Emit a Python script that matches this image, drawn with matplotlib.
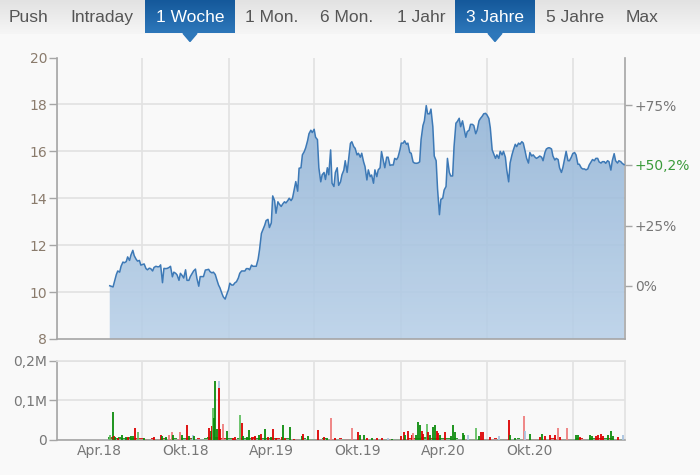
import numpy as np
import pandas as pd
import matplotlib
matplotlib.use('Agg')
import matplotlib.pyplot as plt
import matplotlib.dates as mdates
from matplotlib.patches import Polygon
from matplotlib.colors import LinearSegmentedColormap
from matplotlib.ticker import FuncFormatter

# --- Data: closes twice a week (Mon, Thu) ---
price_start = '2018-04-23'
prices = [
    10.27, 10.25, 10.22, 10.45, 10.75, 10.90, 10.85, 11.10, 11.28, 11.25,
    11.30, 11.50, 11.35, 11.58, 11.78, 11.55, 11.40, 11.32, 11.35, 11.15,
    11.18, 11.20, 11.00, 10.95, 11.02, 11.00, 10.90, 11.05, 11.10, 11.08,
    11.08, 11.16, 10.40, 11.01, 11.00, 11.01, 11.05, 11.10, 10.65, 10.85,
    10.80, 10.73, 10.50, 10.80, 10.70, 10.60, 10.95, 10.50, 10.50, 10.66,
    10.80, 10.90, 10.98, 10.59, 10.25, 10.66, 10.66, 10.66, 10.94, 10.95,
    10.97, 10.87, 10.82, 10.85, 10.75, 10.55, 10.30, 10.18, 9.95, 9.80,
    9.70, 9.88, 10.10, 10.38, 10.30, 10.30, 10.40, 10.44, 10.60, 10.80,
    10.90, 10.90, 10.90, 11.00, 11.00, 10.95, 11.15, 11.10, 11.10, 11.10,
    11.40, 11.80, 12.50, 12.65, 12.85, 13.05, 13.10, 12.75, 12.95, 14.10,
    13.90, 13.36, 13.85, 13.75, 13.65, 13.75, 13.85, 13.80, 13.90, 14.00,
    13.90, 14.00, 14.40, 14.71, 14.30, 15.28, 15.30, 15.85, 15.99, 16.15,
    16.45, 16.75, 16.90, 16.80, 16.94, 16.60, 16.50, 15.30, 14.70, 15.00,
    15.10, 14.80, 15.30, 15.00, 16.06, 14.64, 14.50, 15.10, 15.30, 14.55,
    14.70, 15.00, 15.20, 15.60, 15.10, 15.63, 16.34, 16.41, 16.20, 16.13,
    15.85, 15.92, 15.75, 15.92, 15.55, 15.35, 14.78, 15.21, 14.92, 14.99,
    14.64, 15.21, 14.92, 15.21, 15.30, 15.99, 15.60, 15.30, 15.75, 15.75,
    15.40, 15.42, 15.42, 15.70, 15.65, 15.75, 16.05, 16.35, 16.35, 16.45,
    16.30, 16.35, 15.95, 15.92, 15.55, 15.50, 15.49, 15.50, 15.55, 16.50,
    17.10, 17.30, 17.95, 17.60, 17.60, 17.80, 17.05, 15.80, 15.60, 14.40,
    13.30, 13.95, 14.00, 14.35, 14.50, 15.70, 15.10, 14.95, 14.95, 16.20,
    17.20, 17.27, 17.41, 17.05, 17.30, 17.00, 16.60, 16.84, 16.90, 17.15,
    17.15, 17.10, 16.75, 16.90, 17.30, 17.40, 17.50, 17.60, 17.62, 17.55,
    17.40, 17.00, 16.06, 15.90, 15.70, 15.85, 15.70, 16.00, 15.85, 16.00,
    15.75, 15.20, 14.70, 15.50, 15.85, 16.06, 16.30, 16.20, 16.35, 16.30,
    16.41, 16.35, 16.00, 15.71, 15.50, 15.95, 15.80, 15.85, 15.75, 15.70,
    15.75, 15.80, 15.75, 15.60, 15.95, 16.10, 16.15, 16.15, 16.10, 15.80,
    15.63, 15.70, 15.65, 15.30, 15.10, 15.30, 15.70, 16.00, 15.60, 15.60,
    15.75, 15.90, 15.95, 15.85, 15.45, 15.45, 15.30, 15.25, 15.25, 15.21,
    15.25, 15.42, 15.55, 15.65, 15.60, 15.70, 15.70, 15.55, 15.50, 15.56,
    15.56, 15.49, 15.60, 15.56, 15.20, 15.60, 15.90, 15.60, 15.50, 15.60,
    15.56, 15.49, 15.43,
]

# typical weekly volume level (thousand shares)
week_vol = [
    8, 6, 5, 6, 5, 4, 6, 5, 5, 4, 4, 3, 3, 4, 3, 3, 4, 4, 3, 4, 4, 3, 4, 5, 4,
    4, 3, 4, 3, 4, 6, 8, 7, 6, 5, 4, 4,
    4, 3, 5, 4, 4, 4, 5, 6, 5, 5, 4, 4, 5, 5, 4, 3, 3, 4, 3, 3, 3, 3, 4, 3, 3,
    3, 3, 3, 4, 3, 3, 3, 3, 4, 3, 3, 3, 3, 3, 2, 2, 2, 2, 2, 2, 2, 2, 3, 2, 2, 2, 2,
    3, 3, 4, 5, 5, 5, 6, 6, 5, 5, 4, 4, 5, 4, 4, 3, 4, 3, 3, 3, 3, 3, 3, 3, 3,
    3, 3, 3, 4, 3, 3, 3, 3, 3, 3, 4, 3, 3, 3, 3, 3, 3, 3, 3, 3, 4, 4, 3, 3, 3, 3, 3,
    3, 4, 4, 3, 3, 4, 4, 4, 4, 4, 4, 4, 3, 3, 3, 3,
]

# single days with notable volume (thousand shares)
spike_dates = [
    '2018-04-24', '2018-04-30', '2018-05-02', '2018-05-04', '2018-05-11', '2018-05-18',
    '2018-05-28', '2018-05-31', '2018-06-08', '2018-06-12', '2018-06-15', '2018-06-22',
    '2018-07-04', '2018-07-27', '2018-08-10', '2018-08-13', '2018-08-20', '2018-08-27',
    '2018-09-03', '2018-09-05', '2018-09-19', '2018-09-24', '2018-10-04', '2018-10-08',
    '2018-10-16', '2018-10-18', '2018-11-20', '2018-11-23', '2018-11-26', '2018-11-28',
    '2018-11-30', '2018-12-03', '2018-12-06', '2018-12-10', '2018-12-12', '2018-12-14',
    '2018-12-19', '2018-12-28',
    '2019-01-10', '2019-01-14', '2019-01-25', '2019-01-28', '2019-01-31', '2019-02-08',
    '2019-02-13', '2019-02-18', '2019-02-26', '2019-03-06', '2019-03-11', '2019-03-19',
    '2019-03-26', '2019-04-01', '2019-04-05', '2019-04-12', '2019-04-23', '2019-04-26',
    '2019-05-01', '2019-05-10', '2019-05-20', '2019-06-05', '2019-06-07', '2019-06-17',
    '2019-07-10', '2019-07-22', '2019-07-29', '2019-08-05', '2019-08-15', '2019-09-19',
    '2019-10-03', '2019-10-07', '2019-10-14', '2019-10-22', '2019-11-01', '2019-11-12',
    '2019-11-22', '2019-12-05', '2019-12-13',
    '2020-01-02', '2020-01-07', '2020-01-10', '2020-01-17', '2020-01-24', '2020-01-27',
    '2020-02-03', '2020-02-07', '2020-02-11', '2020-02-14', '2020-02-17', '2020-02-26',
    '2020-02-28', '2020-03-02', '2020-03-09', '2020-03-13', '2020-03-17', '2020-03-20',
    '2020-03-24', '2020-04-03', '2020-04-17', '2020-04-21', '2020-04-24', '2020-05-12',
    '2020-05-15', '2020-05-22', '2020-06-08', '2020-06-16', '2020-06-19', '2020-06-23',
    '2020-07-08', '2020-07-27', '2020-08-17', '2020-08-20', '2020-08-31', '2020-09-18',
    '2020-09-21', '2020-10-01', '2020-10-22', '2020-10-26', '2020-11-02', '2020-11-13',
    '2020-11-24', '2020-11-30', '2020-12-04', '2020-12-18',
    '2021-01-08', '2021-01-11', '2021-01-15', '2021-02-05', '2021-02-10', '2021-02-19',
    '2021-02-23', '2021-03-02', '2021-03-05', '2021-03-16', '2021-03-22', '2021-03-26',
    '2021-04-07', '2021-04-16',
]
spike_vol = [
    13, 70, 9, 8, 5, 11, 8, 7, 9, 9, 30, 19,
    5, 7, 13, 9, 7, 11, 19, 11, 19, 11, 38, 9,
    13, 9, 30, 21, 34, 79, 55, 148, 26, 148, 131, 26,
    40, 21,
    5, 7, 63, 42, 10, 8, 24, 8, 10, 13, 15, 26,
    7, 7, 26, 5, 7, 38, 5, 32, 3, 9, 15, 9,
    24, 7, 5, 56, 5, 30, 19, 13, 11, 5, 4, 4,
    4, 5, 3,
    9, 19, 13, 21, 11, 17, 13, 46, 38, 21, 15, 40,
    19, 13, 32, 38, 21, 17, 13, 19, 9, 38, 19, 17,
    11, 13, 30, 9, 19, 19, 7, 9, 49, 13, 4, 60,
    21, 15, 7, 15, 9, 11, 13, 30, 7, 30,
    13, 11, 7, 13, 9, 9, 13, 15, 9, 11, 21, 9,
    7, 11,
]
spike_col = [
    'lg', 'g', 'r', 'g', 'r', 'g', 'g', 'r', 'g', 'g', 'r', 'lg',
    'g', 'r', 'r', 'g', 'g', 'lr', 'lr', 'g', 'lr', 'g', 'r', 'g',
    'b', 'g', 'r', 'g', 'r', 'lg', 'g', 'g', 'g', 'b', 'r', 'r',
    'lr', 'g',
    'r', 'r', 'lg', 'r', 'g', 'g', 'g', 'r', 'r', 'g', 'r', 'g',
    'r', 'g', 'r', 'r', 'r', 'g', 'r', 'g', 'r', 'g', 'r', 'g',
    'r', 'r', 'g', 'lr', 'r', 'lr', 'r', 'g', 'g', 'r', 'g', 'r',
    'r', 'b', 'g',
    'r', 'r', 'g', 'r', 'r', 'lr', 'g', 'g', 'g', 'r', 'r', 'lg',
    'r', 'g', 'g', 'g', 'r', 'r', 'g', 'r', 'g', 'g', 'g', 'g',
    'g', 'b', 'lg', 'g', 'r', 'r', 'r', 'b', 'r', 'g', 'g', 'lr',
    'b', 'g', 'r', 'g', 'r', 'r', 'r', 'lr', 'r', 'lr',
    'g', 'g', 'r', 'g', 'g', 'r', 'r', 'r', 'r', 'g', 'g', 'g',
    'r', 'b',
]

tabs = ['Push', 'Intraday', '1 Woche', '1 Mon.', '6 Mon.', '1 Jahr', '3 Jahre', '5 Jahre', 'Max']
active_tabs = ['1 Woche', '3 Jahre']
price_ticks = [8, 10, 12, 14, 16, 18, 20]
pct_ticks = [0, 25, 75]
vol_ticks = [0, 100000, 200000]
vol_tick_labels = ['0', '0,1M', '0,2M']
x_label_dates = ['2018-04-01', '2018-10-01', '2019-04-01', '2019-10-01', '2020-04-01', '2020-10-01']
x_labels = ['Apr.18', 'Okt.18', 'Apr.19', 'Okt.19', 'Apr.20', 'Okt.20']
x_range = ('2018-01-01', '2021-04-21')

# --- Colors ---
BG = '#f9f9f9'
LINE = '#3d79b6'
GRID = '#e2e2e2'
AXIS = '#a6a6a6'
TXT = '#777777'
PRICE_TXT = '#8a7b6c'
VOL_COLORS = {'g': '#0c8c0c', 'lg': '#63c063', 'r': '#dd0000',
              'lr': '#ef7d7d', 'b': '#a9c3e0'}

mondays = pd.date_range(price_start, periods=(len(prices) + 1) // 2, freq='W-MON')
thursdays = mondays[:-1] + pd.Timedelta(days=3)
dates = mondays.append(thursdays).sort_values()
prices = np.array(prices)
weekly_close = prices[::2]
week_vol = np.array(week_vol) * 1000
spike_d = pd.to_datetime(spike_dates)
spike_v = np.array(spike_vol) * 1000
xmin, xmax = pd.to_datetime(x_range[0]), pd.to_datetime(x_range[1])

fig = plt.figure(figsize=(7, 4.75), dpi=100, facecolor=BG)
W, H = 700, 475

# --- Tab bar ---
ax_tab = fig.add_axes([0, 1 - 34 / H, 1, 34 / H])
ax_tab.imshow(np.linspace(0, 1, 50).reshape(-1, 1),
              cmap=LinearSegmentedColormap.from_list('bar', ['#e2e2e2', '#f6f6f6']),
              extent=[0, W, 34, 0], aspect='auto', zorder=0)
ax_tab.axis('off')
tab_x = [29, 102, 190, 272, 347, 421, 495, 575, 642]
tab_box = {'1 Woche': (145, 235), '3 Jahre': (455, 535)}
active_cmap = LinearSegmentedColormap.from_list('act', ['#14589a', '#2d77ba'])
for name, cx in zip(tabs, tab_x):
    if name in active_tabs:
        x0, x1 = tab_box[name]
        ax_tab.imshow(np.linspace(0, 1, 50).reshape(-1, 1), cmap=active_cmap,
                      extent=[x0, x1, 33.3, 0], aspect='auto', zorder=1)
        mid = (x0 + x1) / 2
        ax_tab.add_patch(Polygon([[mid - 7, 33.3], [mid + 7, 33.3], [mid, 41.5]], closed=True,
                                 color='#2d77ba', clip_on=False, zorder=2))
        col = 'white'
    else:
        col = '#555555'
    ax_tab.text(cx, 21.7, name, ha='center', va='baseline', fontsize=12.5,
                family='Liberation Sans', color=col, zorder=3)
ax_tab.set_xlim(0, W)
ax_tab.set_ylim(34, 0)

# --- Price panel ---
ax = fig.add_axes([57 / W, 1 - 339 / H, 568 / W, (339 - 57.5) / H])
ax.set_facecolor(BG)
fill = ax.fill_between(dates, prices, 8, color='none', lw=0)
grad = ax.imshow(np.linspace(0, 1, 256).reshape(-1, 1),
                 cmap=LinearSegmentedColormap.from_list('fill', ['#8aaed3', '#b8d0e8']),
                 extent=[mdates.date2num(xmin), mdates.date2num(xmax), 8, 20],
                 aspect='auto', origin='upper', alpha=0.88, zorder=2)
grad.set_clip_path(fill.get_paths()[0], transform=ax.transData)
ax.plot(dates, prices, color=LINE, lw=1.1, zorder=3)

ax.set_xlim(xmin, xmax)
ax.set_ylim(8, 20)
ax.xaxis.set_major_locator(mdates.MonthLocator(bymonth=[1, 7]))
ax.tick_params(axis='x', length=0, labelbottom=False)
ax.set_yticks(price_ticks)
ax.tick_params(axis='y', length=6, width=1, color=AXIS, pad=1,
               labelsize=10, labelcolor=PRICE_TXT)
for t in price_ticks[1:-1]:
    ax.axhline(t, color=GRID, lw=1.2, zorder=1)
ax.grid(axis='x', color=GRID, lw=1.2, zorder=1)
ax.set_axisbelow(True)
for s in ['left', 'right', 'bottom']:
    ax.spines[s].set_color(AXIS)
    ax.spines[s].set_linewidth(1.2)
ax.spines['top'].set_visible(False)

# right-hand percent axis relative to the first close
base = prices[0]
last_pct = (prices[-1] / base - 1) * 100
ax2 = ax.twinx()
ax2.set_ylim(8, 20)
r_ticks = [base * (1 + p / 100) for p in pct_ticks] + [prices[-1]]
r_labels = ['0%' if p == 0 else f'+{p}%' for p in pct_ticks] + \
           ['+' + f'{last_pct:.1f}'.replace('.', ',') + '%']
ax2.set_yticks(r_ticks)
ax2.set_yticklabels(r_labels)
ax2.tick_params(axis='y', length=5, width=1, color=AXIS, pad=2,
                labelsize=10, labelcolor=TXT)
ax2.get_yticklabels()[-1].set_color('#3a9a3a')
for s in ax2.spines.values():
    s.set_visible(False)

# --- Volume panel ---
axv = fig.add_axes([57 / W, 1 - 439.7 / H, 568 / W, 79 / H])
axv.set_facecolor(BG)
wk_col = ['#2e9e2e' if i == 0 or weekly_close[i] >= weekly_close[i - 1] else '#e02020'
          for i in range(len(weekly_close))]
axv.bar(mondays, week_vol, width=7, color=wk_col, lw=0, zorder=2)
axv.vlines(spike_d, 0, spike_v, colors=[VOL_COLORS[c] for c in spike_col],
           lw=1.3, zorder=3)
axv.set_xlim(xmin, xmax)
axv.set_ylim(0, 200000)
axv.set_yticks(vol_ticks)
axv.set_yticklabels(vol_tick_labels)
axv.tick_params(axis='y', length=6, width=1, color=AXIS, pad=1,
                labelsize=10, labelcolor=TXT)
axv.xaxis.set_major_locator(mdates.MonthLocator(bymonth=[1, 7]))
axv.xaxis.set_major_formatter(FuncFormatter(lambda v, p: ''))
axv.set_xticks(pd.to_datetime(x_label_dates), minor=True)
axv.set_xticklabels(x_labels, minor=True)
axv.tick_params(axis='x', which='both', length=0, pad=3, labelsize=10, labelcolor=TXT)
axv.grid(axis='x', which='major', color=GRID, lw=1.2, zorder=1)
axv.grid(axis='y', color=GRID, lw=1.2, zorder=1)
axv.set_axisbelow(True)
for s in ['left', 'bottom']:
    axv.spines[s].set_color(AXIS)
    axv.spines[s].set_linewidth(1.2)
for s in ['top', 'right']:
    axv.spines[s].set_color(GRID)
    axv.spines[s].set_linewidth(1.2)

fig.savefig('out.png', dpi=100, facecolor=BG)
